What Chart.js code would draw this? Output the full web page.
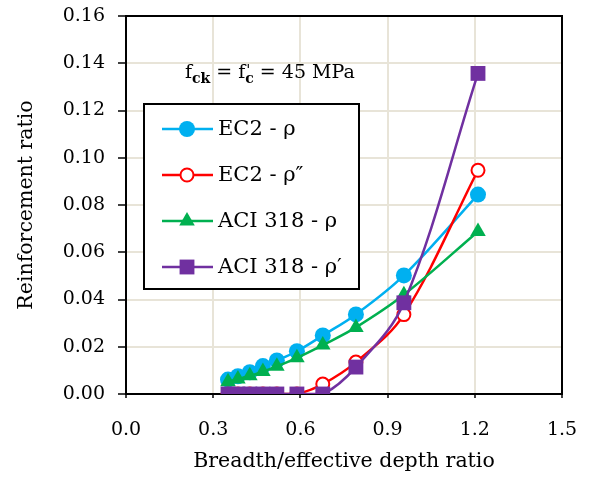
<!DOCTYPE html>
<html>
<head>
<meta charset="utf-8">
<script src="https://cdn.jsdelivr.net/npm/chart.js@4/dist/chart.umd.min.js"></script>
<style>
  html, body { margin: 0; padding: 0; background: #fff; }
  #wrap { width: 589px; height: 477px; position: relative; }
</style>
</head>
<body>
<div id="wrap"><canvas id="c" width="589" height="477"></canvas></div>
<script>
// ---- data ----
const xValues   = [0.351, 0.385, 0.426, 0.471, 0.519, 0.588, 0.677, 0.791, 0.956, 1.211];
const ec2Rho    = [0.0061, 0.0075, 0.0092, 0.0118, 0.0142, 0.0181, 0.0248, 0.0337, 0.0502, 0.0844];
const ec2RhoDD  = [0, 0, 0, 0, 0, 0, 0.0042, 0.0135, 0.0336, 0.0947];
const aciRho    = [0.0052, 0.0063, 0.0077, 0.0095, 0.0117, 0.0153, 0.0207, 0.0282, 0.0420, 0.0688];
const aciRhoP   = [0, 0, 0, 0, 0, 0, 0, 0.0114, 0.0386, 0.1357];
const seriesLabels = ['EC2 - ρ', 'EC2 - ρ″', 'ACI 318 - ρ', 'ACI 318 - ρ′'];
const xTickLabels = ['0.0', '0.3', '0.6', '0.9', '1.2', '1.5'];
const yTickLabels = ['0.00', '0.02', '0.04', '0.06', '0.08', '0.10', '0.12', '0.14', '0.16'];
const xTitle = 'Breadth/effective depth ratio';
const yTitle = 'Reinforcement ratio';

const pts = arr => xValues.map((x, i) => ({ x: x, y: arr[i] }));

Chart.defaults.font.family = 'DejaVu Serif';
Chart.defaults.font.size = 19;
Chart.defaults.color = '#000';

const FONT = 'DejaVu Serif';

const frameAndNote = {
  id: 'frameAndNote',
  beforeDatasetsDraw(chart) {
    const { ctx, chartArea: a } = chart;
    ctx.save();
    ctx.strokeStyle = '#000';
    ctx.lineWidth = 2;
    ctx.strokeRect(a.left, a.top, a.right - a.left, a.bottom - a.top);
    ctx.restore();
  },
  afterDatasetsDraw(chart) {
    const { ctx, chartArea: a } = chart;
    // annotation: f_ck = f'_c = 45 MPa
    ctx.save();
    ctx.fillStyle = '#000';
    ctx.textBaseline = 'alphabetic';
    ctx.textAlign = 'left';
    let x = a.left + 59;
    const base = a.top + 62;
    const big = '19px "' + FONT + '"';
    const sub = 'bold 14px "' + FONT + '"';
    const put = (t, f, dy) => { ctx.font = f; ctx.fillText(t, x, base + dy); x += ctx.measureText(t).width; };
    put('f', big, 0);
    put('ck', sub, 5);
    put(' = ', big, 0);
    put('f', big, 0);
    const after = x;
    x = after + 1; put("'", '15px "' + FONT + '"', -3);
    x = after; put('c', sub, 5);
    put(' = 45 MPa', big, 0);

    // legend box
    const L = a.left + 18, T = a.top + 88, W = 215, H = 185;
    ctx.fillStyle = '#fff';
    ctx.fillRect(L, T, W, H);
    ctx.strokeStyle = '#000';
    ctx.lineWidth = 2;
    ctx.strokeRect(L, T, W, H);
    chart.data.datasets.forEach((ds, i) => {
      const cy = T + 25 + 46 * i;
      ctx.strokeStyle = ds.borderColor;
      ctx.lineWidth = 2.5;
      ctx.beginPath();
      ctx.moveTo(L + 18, cy);
      ctx.lineTo(L + 69, cy);
      ctx.stroke();
      ctx.fillStyle = ds.pointBackgroundColor;
      ctx.strokeStyle = ds.pointBorderColor;
      ctx.lineWidth = ds.pointBorderWidth;
      Chart.helpers.drawPoint(ctx, {
        pointStyle: ds.pointStyle, rotation: 0,
        radius: ds.pointRadius, borderWidth: ds.pointBorderWidth
      }, L + 43, cy);
      ctx.fillStyle = '#000';
      ctx.font = '21px "' + FONT + '"';
      ctx.textBaseline = 'middle';
      ctx.textAlign = 'left';
      ctx.fillText(ds.label, L + 74, cy + 1);
    });
    ctx.restore();
  }
};

new Chart(document.getElementById('c'), {
  type: 'line',
  data: {
    datasets: [
      { label: seriesLabels[0], data: pts(ec2Rho), borderColor: '#00b0f0', backgroundColor: '#00b0f0',
        pointBackgroundColor: '#00b0f0', pointBorderColor: '#00b0f0', pointBorderWidth: 0,
        pointStyle: 'circle', pointRadius: 8, borderWidth: 2.5, tension: 0.35, order: 4 },
      { label: seriesLabels[1], data: pts(ec2RhoDD), borderColor: '#ff0000', backgroundColor: '#fff',
        pointBackgroundColor: '#fff', pointBorderColor: '#ff0000', pointBorderWidth: 2,
        pointStyle: 'circle', pointRadius: 6.5, borderWidth: 2.5, tension: 0.35, order: 3 },
      { label: seriesLabels[2], data: pts(aciRho), borderColor: '#00b050', backgroundColor: '#00b050',
        pointBackgroundColor: '#00b050', pointBorderColor: '#00b050', pointBorderWidth: 0,
        pointStyle: 'triangle', pointRadius: 9, borderWidth: 2.5, tension: 0.35, order: 2 },
      { label: seriesLabels[3], data: pts(aciRhoP), borderColor: '#7030a0', backgroundColor: '#7030a0',
        pointBackgroundColor: '#7030a0', pointBorderColor: '#7030a0', pointBorderWidth: 0,
        pointStyle: 'rect', pointRadius: 10.5, borderWidth: 2.5, tension: 0.35, order: 1 }
    ]
  },
  options: {
    responsive: false,
    animation: false,
    devicePixelRatio: 1,
    layout: { padding: { left: 10, right: 27, top: 16, bottom: 0 } },
    plugins: { legend: { display: false }, tooltip: { enabled: false } },
    elements: { point: { hoverRadius: 0 } },
    scales: {
      x: {
        type: 'linear', min: 0, max: 1.5,
        afterFit(s) { s.height = 83; s.paddingLeft = 0; s.paddingRight = 0; },
        afterBuildTicks(s) { s.ticks = xTickLabels.map(t => ({ value: parseFloat(t) })); },
        ticks: { padding: 21, maxRotation: 0, autoSkip: false,
          callback: (v, i) => xTickLabels[i] },
        grid: { color: '#e8e4d8', lineWidth: 2, tickColor: '#000', tickWidth: 1.5, tickLength: 4 },
        border: { display: true, color: '#000', width: 2 },
        title: { display: true, text: xTitle, font: { size: 20.5 }, padding: { top: 0, bottom: 3 } }
      },
      y: {
        type: 'linear', min: 0, max: 0.16,
        afterFit(s) { s.width = 116; s.paddingTop = 0; s.paddingBottom = 0; },
        afterBuildTicks(s) { s.ticks = yTickLabels.map(t => ({ value: parseFloat(t) })); },
        ticks: { padding: 13, autoSkip: false, callback: (v, i) => yTickLabels[i] },
        grid: { color: '#e8e4d8', lineWidth: 2, tickColor: '#000', tickWidth: 1.5, tickLength: 8 },
        border: { display: true, color: '#000', width: 2 },
        title: { display: true, text: yTitle, font: { size: 20.5 }, padding: { top: 4, bottom: 0 } }
      }
    }
  },
  plugins: [frameAndNote]
});
</script>
</body>
</html>
